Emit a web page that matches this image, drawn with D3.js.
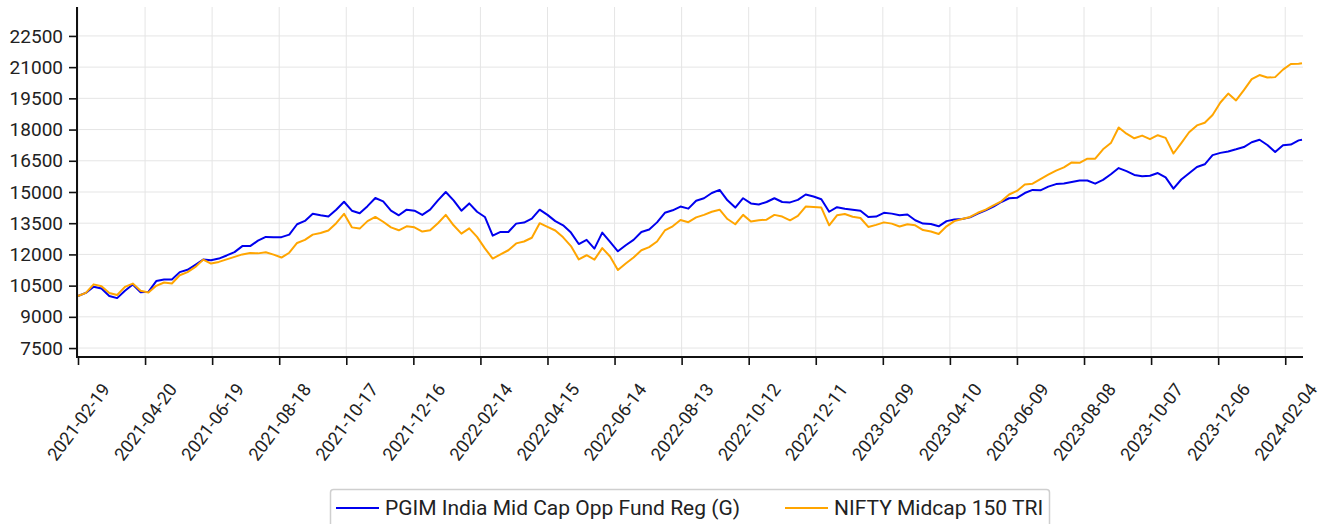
<!DOCTYPE html>
<html>
<head>
<meta charset="utf-8">
<script src="https://cdn.jsdelivr.net/npm/d3@7"></script>
<style>
  html, body { margin: 0; padding: 0; background: #fff; }
  svg { display: block; font-family: Roboto, "Noto Sans", sans-serif; }
</style>
</head>
<body>
<svg id="chart" width="1325" height="524"></svg>
<script>
const dates = [
"2021-02-19","2021-02-26","2021-03-05","2021-03-12","2021-03-19","2021-03-26","2021-04-02","2021-04-09","2021-04-16","2021-04-23",
"2021-04-30","2021-05-07","2021-05-14","2021-05-21","2021-05-28","2021-06-04","2021-06-11","2021-06-18","2021-06-25","2021-07-02",
"2021-07-09","2021-07-16","2021-07-23","2021-07-30","2021-08-06","2021-08-13","2021-08-20","2021-08-27","2021-09-03","2021-09-10",
"2021-09-17","2021-09-24","2021-10-01","2021-10-08","2021-10-15","2021-10-22","2021-10-29","2021-11-05","2021-11-12","2021-11-19",
"2021-11-26","2021-12-03","2021-12-10","2021-12-17","2021-12-24","2021-12-31","2022-01-07","2022-01-14","2022-01-21","2022-01-28",
"2022-02-04","2022-02-11","2022-02-18","2022-02-25","2022-03-04","2022-03-11","2022-03-18","2022-03-25","2022-04-01","2022-04-08",
"2022-04-15","2022-04-22","2022-04-29","2022-05-06","2022-05-13","2022-05-20","2022-05-27","2022-06-03","2022-06-10","2022-06-17",
"2022-06-24","2022-07-01","2022-07-08","2022-07-15","2022-07-22","2022-07-29","2022-08-05","2022-08-12","2022-08-19","2022-08-26",
"2022-09-02","2022-09-09","2022-09-16","2022-09-23","2022-09-30","2022-10-07","2022-10-14","2022-10-21","2022-10-28","2022-11-04",
"2022-11-11","2022-11-18","2022-11-25","2022-12-02","2022-12-09","2022-12-16","2022-12-23","2022-12-30","2023-01-06","2023-01-13",
"2023-01-20","2023-01-27","2023-02-03","2023-02-10","2023-02-17","2023-02-24","2023-03-03","2023-03-10","2023-03-17","2023-03-24",
"2023-03-31","2023-04-07","2023-04-14","2023-04-21","2023-04-28","2023-05-05","2023-05-12","2023-05-19","2023-05-26","2023-06-02",
"2023-06-09","2023-06-16","2023-06-23","2023-06-30","2023-07-07","2023-07-14","2023-07-21","2023-07-28","2023-08-04","2023-08-11",
"2023-08-18","2023-08-25","2023-09-01","2023-09-08","2023-09-15","2023-09-22","2023-09-29","2023-10-06","2023-10-13","2023-10-20",
"2023-10-27","2023-11-03","2023-11-10","2023-11-17","2023-11-24","2023-12-01","2023-12-08","2023-12-15","2023-12-22","2023-12-29",
"2024-01-05","2024-01-12","2024-01-19","2024-01-26","2024-02-02","2024-02-09","2024-02-16","2024-02-19"
];

const fundValues = [
10000,10150,10450,10360,10000,9900,10250,10550,10180,10200,
10720,10790,10790,11150,11260,11500,11750,11720,11800,11950,
12110,12400,12400,12660,12840,12830,12830,12950,13450,13610,
13950,13880,13820,14150,14530,14100,13980,14320,14710,14550,
14100,13880,14150,14100,13900,14150,14600,15000,14600,14100,
14450,14050,13800,12900,13080,13080,13480,13530,13720,14150,
13900,13600,13400,13050,12500,12700,12280,13050,12600,12150,
12440,12700,13080,13200,13540,14000,14120,14300,14200,14580,
14700,14950,15100,14600,14250,14700,14450,14400,14520,14700,
14520,14500,14620,14880,14780,14650,14050,14270,14190,14150,
14100,13800,13820,14000,13960,13880,13920,13640,13480,13460,
13350,13600,13680,13700,13780,13960,14120,14300,14520,14700,
14720,14950,15100,15080,15260,15380,15410,15480,15550,15550,
15400,15580,15850,16150,16000,15820,15760,15780,15910,15700,
15160,15600,15900,16200,16330,16770,16880,16950,17050,17160,
17390,17510,17260,16920,17250,17280,17480,17510
];

const indexValues = [
10000,10150,10560,10470,10150,10050,10440,10600,10250,10170,
10490,10650,10600,11000,11150,11400,11750,11560,11640,11760,
11880,12000,12070,12050,12100,11990,11850,12080,12550,12700,
12950,13030,13150,13500,13950,13300,13240,13600,13800,13570,
13300,13160,13350,13300,13100,13160,13500,13900,13400,13000,
13250,12840,12290,11800,12000,12200,12530,12620,12800,13500,
13320,13150,12820,12400,11760,11960,11750,12300,11900,11250,
11560,11850,12200,12350,12620,13150,13350,13650,13550,13780,
13900,14050,14150,13700,13450,13900,13580,13640,13670,13900,
13820,13640,13850,14300,14280,14250,13400,13880,13940,13810,
13750,13320,13420,13540,13480,13340,13450,13400,13170,13100,
12980,13350,13600,13700,13800,14000,14150,14360,14550,14880,
15050,15360,15400,15620,15830,16030,16180,16420,16400,16600,
16600,17050,17350,18100,17800,17580,17710,17540,17730,17600,
16850,17350,17870,18200,18330,18700,19300,19730,19400,19900,
20420,20620,20500,20520,20880,21150,21160,21190
];

const seriesNames = ["PGIM India Mid Cap Opp Fund Reg (G)", "NIFTY Midcap 150 TRI"];
const seriesColors = ["#0000ee", "#ffa500"];

const yTickValues = [7500, 9000, 10500, 12000, 13500, 15000, 16500, 18000, 19500, 21000, 22500];
const xTickLabels = [
"2021-02-19","2021-04-20","2021-06-19","2021-08-18","2021-10-17","2021-12-16","2022-02-14",
"2022-04-15","2022-06-14","2022-08-13","2022-10-12","2022-12-11","2023-02-09","2023-04-10",
"2023-06-09","2023-08-08","2023-10-07","2023-12-06","2024-02-04"
];

(function () {
const parse = d3.utcParse("%Y-%m-%d");
const dateObjs = dates.map(parse);
const series = [fundValues, indexValues].map((vals, k) => ({
  name: seriesNames[k], color: seriesColors[k],
  points: vals.map((v, i) => ({ date: dateObjs[i], value: v }))
}));

const svg = d3.select("#chart");
const pLeft = 77, pRight = 1303, pTop = 7, pBottom = 357;

const x = d3.scaleUtc().domain(d3.extent(dateObjs)).range([pLeft + 1, pRight - 1]);
const y = d3.scaleLinear().domain([7070, 23890]).range([pBottom, pTop]);

const xTicks = xTickLabels.map(parse);

// grid
const grid = svg.append("g");
grid.selectAll("line.h").data(yTickValues).join("line")
  .attr("x1", pLeft).attr("x2", pRight)
  .attr("y1", d => y(d)).attr("y2", d => y(d))
  .attr("stroke", "#e5e5e5").attr("stroke-width", 1);
grid.selectAll("line.v").data(xTicks).join("line")
  .attr("x1", d => x(d)).attr("x2", d => x(d))
  .attr("y1", pTop).attr("y2", pBottom)
  .attr("stroke", "#e5e5e5").attr("stroke-width", 1);

// lines
const line = d3.line().x(d => x(d.date)).y(d => y(d.value));
svg.append("g").selectAll("path").data(series).join("path")
  .attr("d", d => line(d.points))
  .attr("fill", "none")
  .attr("stroke", d => d.color)
  .attr("stroke-width", 2)
  .attr("stroke-linejoin", "round");

// y axis
const yAxis = svg.append("g").attr("transform", `translate(${pLeft},0)`)
  .call(d3.axisLeft(y).tickValues(yTickValues).tickSize(8).tickPadding(6).tickFormat(d3.format("d")));
yAxis.select(".domain").remove();
yAxis.append("line").attr("x1", 0).attr("x2", 0).attr("y1", pTop).attr("y2", pBottom + 1)
  .attr("stroke", "#111").attr("stroke-width", 2);
yAxis.selectAll(".tick line").attr("stroke", "#111").attr("stroke-width", 1.6);
yAxis.selectAll(".tick text").attr("font-size", 19).attr("fill", "#222")
  .attr("font-family", "Roboto, sans-serif");

// x axis
const xAxis = svg.append("g").attr("transform", `translate(0,${pBottom})`)
  .call(d3.axisBottom(x).tickValues(xTicks).tickSize(8).tickFormat(d3.utcFormat("%Y-%m-%d")));
xAxis.select(".domain").remove();
xAxis.append("line").attr("x1", pLeft).attr("x2", pRight).attr("y1", 0).attr("y2", 0)
  .attr("stroke", "#111").attr("stroke-width", 2);
xAxis.selectAll(".tick line").attr("stroke", "#111").attr("stroke-width", 1.6);
xAxis.selectAll(".tick text")
  .attr("font-size", 18).attr("fill", "#222").attr("font-family", "Roboto, sans-serif")
  .attr("text-anchor", "middle").attr("dy", "0.35em").attr("y", 0)
  .attr("transform", "translate(0,65) rotate(-53)");

// legend
const legend = svg.append("g");
legend.append("rect").attr("x", 330.5).attr("y", 489.5).attr("width", 719).attr("height", 44)
  .attr("rx", 3).attr("fill", "#fff").attr("stroke", "#cfcfcf").attr("stroke-width", 1.5);
const legendX = [336, 785];
series.forEach((s, k) => {
  const g = legend.append("g").attr("transform", `translate(${legendX[k]},508)`);
  g.append("line").attr("x1", 0).attr("x2", 43).attr("y1", 0).attr("y2", 0)
    .attr("stroke", s.color).attr("stroke-width", 2);
  g.append("text").attr("x", 49).attr("y", 0).attr("dy", "0.35em")
    .attr("font-size", 21).attr("fill", "#222").text(s.name);
});
})();
</script>
</body>
</html>
